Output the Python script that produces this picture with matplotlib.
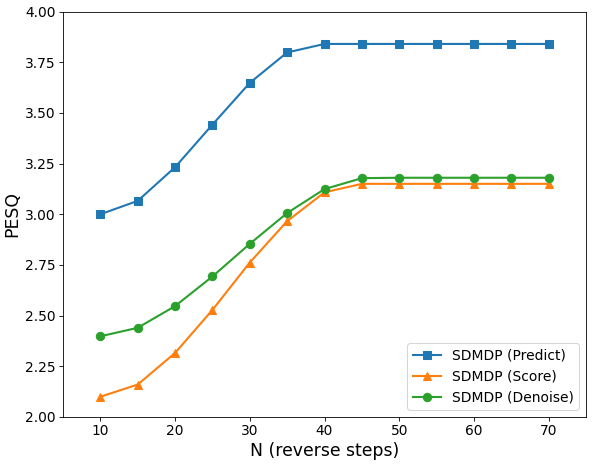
import matplotlib
matplotlib.use("Agg")
import matplotlib.pyplot as plt

steps = [10, 15, 20, 25, 30, 35, 40, 45, 50, 55, 60, 65, 70]
pesq_predict = [3.00, 3.066, 3.232, 3.442, 3.648, 3.798, 3.84, 3.84, 3.84, 3.84, 3.84, 3.84, 3.84]
pesq_score = [2.10, 2.16, 2.316, 2.528, 2.762, 2.966, 3.108, 3.15, 3.15, 3.15, 3.15, 3.15, 3.15]
pesq_denoise = [2.398, 2.44, 2.547, 2.693, 2.854, 3.006, 3.124, 3.178, 3.18, 3.18, 3.18, 3.18, 3.18]

dpi = 75
fig = plt.figure(figsize=(592 / dpi, 464 / dpi), dpi=dpi)
ax = fig.add_axes([63 / 592, 1 - 417 / 464, (586 - 63) / 592, (417 - 11.5) / 464])

ax.plot(steps, pesq_predict, marker='s', color='#1f77b4', lw=2, ms=8, label='SDMDP (Predict)')
ax.plot(steps, pesq_score, marker='^', color='#ff7f0e', lw=2, ms=8, label='SDMDP (Score)')
ax.plot(steps, pesq_denoise, marker='o', color='#2ca02c', lw=2, ms=8, label='SDMDP (Denoise)')

ax.set_xlim(5, 75)
ax.set_ylim(2.0, 4.0)
ax.set_yticks([2.0, 2.25, 2.5, 2.75, 3.0, 3.25, 3.5, 3.75, 4.0])
ax.set_xlabel('N (reverse steps)', fontsize=16.5)
ax.set_ylabel('PESQ', fontsize=16.5)
ax.tick_params(labelsize=13.2)
ax.legend(loc='lower right', fontsize=13.3)

fig.savefig('out.png', dpi=dpi)
